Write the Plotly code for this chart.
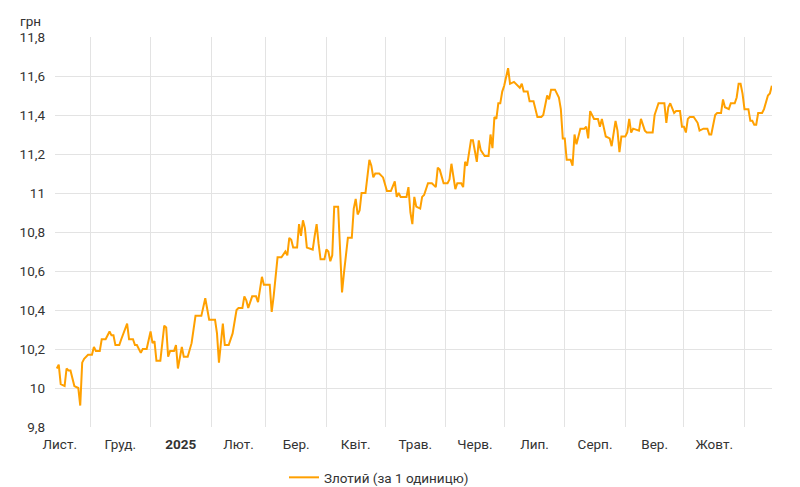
import plotly.graph_objects as go

dates = [
"2024-11-14","2024-11-15","2024-11-16","2024-11-18","2024-11-19","2024-11-20","2024-11-21","2024-11-23",
"2024-11-25","2024-11-26","2024-11-27","2024-11-28","2024-11-30","2024-12-02","2024-12-03","2024-12-04",
"2024-12-06","2024-12-07","2024-12-09","2024-12-11","2024-12-12","2024-12-13","2024-12-14","2024-12-16",
"2024-12-17","2024-12-20","2024-12-21","2024-12-23","2024-12-24","2024-12-25","2024-12-27","2024-12-28",
"2024-12-30","2025-01-01","2025-01-02","2025-01-03","2025-01-04","2025-01-06","2025-01-08","2025-01-09",
"2025-01-10","2025-01-11","2025-01-13","2025-01-14","2025-01-15","2025-01-17","2025-01-18","2025-01-20",
"2025-01-22","2025-01-24","2025-01-27","2025-01-29","2025-01-31","2025-02-03","2025-02-04","2025-02-05",
"2025-02-07","2025-02-08","2025-02-10","2025-02-11","2025-02-12","2025-02-14","2025-02-15","2025-02-17",
"2025-02-18","2025-02-19","2025-02-20","2025-02-22","2025-02-24","2025-02-25","2025-02-27","2025-02-28",
"2025-03-03","2025-03-04","2025-03-05","2025-03-07","2025-03-09","2025-03-11","2025-03-12","2025-03-13",
"2025-03-14","2025-03-15","2025-03-17","2025-03-18","2025-03-19","2025-03-20","2025-03-21","2025-03-22",
"2025-03-25","2025-03-26","2025-03-27","2025-03-28","2025-03-29","2025-03-31","2025-04-01","2025-04-02",
"2025-04-03","2025-04-04","2025-04-05","2025-04-07","2025-04-08","2025-04-09","2025-04-10","2025-04-12",
"2025-04-14","2025-04-15","2025-04-16","2025-04-17","2025-04-18","2025-04-19","2025-04-21","2025-04-23",
"2025-04-24","2025-04-25","2025-04-26","2025-04-28","2025-04-30","2025-05-02","2025-05-04","2025-05-06",
"2025-05-07","2025-05-08","2025-05-09","2025-05-12","2025-05-13","2025-05-14","2025-05-15","2025-05-16",
"2025-05-17","2025-05-19","2025-05-20","2025-05-21","2025-05-23","2025-05-25","2025-05-27","2025-05-28",
"2025-05-29","2025-05-31","2025-06-02","2025-06-03","2025-06-04","2025-06-05","2025-06-06","2025-06-07",
"2025-06-09","2025-06-10","2025-06-11","2025-06-12","2025-06-14","2025-06-15","2025-06-17","2025-06-18",
"2025-06-19","2025-06-21","2025-06-23","2025-06-24","2025-06-25","2025-06-26","2025-06-27","2025-06-28",
"2025-06-29","2025-06-30","2025-07-01","2025-07-03","2025-07-04","2025-07-06","2025-07-07","2025-07-09",
"2025-07-10","2025-07-11","2025-07-13","2025-07-14","2025-07-16","2025-07-18","2025-07-20","2025-07-21",
"2025-07-23","2025-07-24","2025-07-25","2025-07-27","2025-07-29","2025-07-30","2025-07-31","2025-08-01",
"2025-08-02","2025-08-04","2025-08-05","2025-08-06","2025-08-07","2025-08-09","2025-08-11","2025-08-12",
"2025-08-13","2025-08-14","2025-08-16","2025-08-18","2025-08-19","2025-08-20","2025-08-22","2025-08-24",
"2025-08-25","2025-08-27","2025-08-28","2025-08-29","2025-08-30","2025-09-01","2025-09-02","2025-09-03",
"2025-09-04","2025-09-05","2025-09-08","2025-09-09","2025-09-11","2025-09-12","2025-09-15","2025-09-16",
"2025-09-18","2025-09-21","2025-09-22","2025-09-23","2025-09-24","2025-09-26","2025-09-27","2025-09-29",
"2025-09-30","2025-10-01","2025-10-02","2025-10-03","2025-10-04","2025-10-06","2025-10-08","2025-10-09",
"2025-10-11","2025-10-13","2025-10-14","2025-10-15","2025-10-17","2025-10-18","2025-10-20","2025-10-21",
"2025-10-22","2025-10-24","2025-10-25","2025-10-27","2025-10-28","2025-10-29","2025-10-30","2025-10-31",
"2025-11-01","2025-11-03","2025-11-04","2025-11-05","2025-11-06","2025-11-07","2025-11-08","2025-11-10",
"2025-11-11","2025-11-12","2025-11-13","2025-11-14","2025-11-15",
]

zloty_uah = [
10.10,10.12,10.02,10.01,10.10,10.09,10.09,10.01,
10.00,9.91,10.13,10.15,10.17,10.17,10.21,10.19,
10.19,10.25,10.25,10.29,10.27,10.27,10.22,10.22,
10.25,10.33,10.25,10.25,10.22,10.22,10.18,10.20,
10.20,10.29,10.23,10.24,10.14,10.14,10.32,10.31,
10.16,10.19,10.19,10.22,10.10,10.21,10.16,10.16,
10.23,10.37,10.37,10.46,10.35,10.35,10.28,10.13,
10.33,10.22,10.22,10.25,10.28,10.40,10.41,10.41,
10.47,10.45,10.41,10.47,10.47,10.44,10.57,10.53,
10.53,10.39,10.47,10.67,10.67,10.70,10.68,10.77,
10.76,10.72,10.72,10.84,10.78,10.86,10.82,10.72,
10.71,10.78,10.84,10.74,10.66,10.66,10.71,10.70,
10.65,10.68,10.93,10.93,10.71,10.49,10.59,10.77,
10.77,10.92,10.97,10.89,10.91,11.00,11.00,11.17,
11.14,11.08,11.10,11.10,11.08,11.01,11.01,11.06,
10.98,11.00,10.98,10.98,11.03,10.90,10.84,10.98,
10.93,10.92,10.98,10.99,11.05,11.05,11.03,11.13,
11.12,11.05,11.05,11.07,11.15,11.09,11.02,11.05,
11.05,11.03,11.16,11.14,11.27,11.27,11.16,11.27,
11.22,11.19,11.19,11.30,11.23,11.39,11.38,11.46,
11.46,11.52,11.55,11.64,11.56,11.57,11.56,11.54,
11.56,11.52,11.52,11.47,11.47,11.39,11.39,11.40,
11.50,11.48,11.53,11.53,11.49,11.43,11.28,11.28,
11.17,11.17,11.14,11.30,11.25,11.33,11.33,11.34,
11.28,11.42,11.38,11.38,11.34,11.38,11.29,11.28,
11.24,11.37,11.32,11.21,11.29,11.29,11.31,11.38,
11.31,11.33,11.32,11.38,11.32,11.31,11.31,11.40,
11.46,11.46,11.36,11.44,11.46,11.41,11.42,11.42,
11.34,11.34,11.31,11.38,11.39,11.39,11.36,11.32,
11.33,11.33,11.30,11.30,11.40,11.41,11.41,11.48,
11.44,11.43,11.46,11.46,11.49,11.56,11.56,11.51,
11.43,11.43,11.37,11.37,11.35,11.35,11.41,11.41,
11.43,11.47,11.50,11.51,11.55,
]

series_name = "Злотий (за 1 одиницю)"
unit_label = "грн"

month_starts = ["2024-12-01","2025-01-01","2025-02-01","2025-03-01","2025-04-01","2025-05-01",
                "2025-06-01","2025-07-01","2025-08-01","2025-09-01","2025-10-01","2025-11-01"]
month_mid = ["2024-11-15 12:00","2024-12-16 12:00","2025-01-16 12:00","2025-02-15","2025-03-16 12:00",
             "2025-04-16","2025-05-16 12:00","2025-06-16","2025-07-16 12:00","2025-08-16 12:00",
             "2025-09-16","2025-10-16 12:00"]
month_labels = ["Лист.","Груд.","<b>2025</b>","Лют.","Бер.","Квіт.","Трав.","Черв.","Лип.","Серп.","Вер.","Жовт."]

y_ticks = [9.8,10.0,10.2,10.4,10.6,10.8,11.0,11.2,11.4,11.6,11.8]
y_labels = ["9,8","10","10,2","10,4","10,6","10,8","11","11,2","11,4","11,6","11,8"]

fig = go.Figure()
fig.add_trace(go.Scatter(
    x=dates, y=zloty_uah, mode="lines", name=series_name,
    line=dict(color="#ffa000", width=2),
))

grid = "#e3e3e3"
fs = 13.5
fig.update_layout(
    width=800, height=487,
    margin=dict(l=47, r=36, t=29, b=68, autoexpand=False),
    plot_bgcolor="white", paper_bgcolor="white",
    font=dict(family="Roboto", size=fs, color="#333333"),
    showlegend=True,
    legend=dict(orientation="h", xref="container", yref="container",
                x=0.345, xanchor="left", y=0.004, yanchor="bottom",
                font=dict(size=fs, color="#333333")),
    xaxis=dict(
        range=["2024-11-13 02:00", "2025-11-15 02:00"], automargin=False,
        tickmode="array", tickvals=month_mid, ticktext=month_labels,
        showgrid=False, zeroline=False, showline=False, ticks="",
        ticklabelstandoff=7,
        minor=dict(tickmode="array", tickvals=month_starts, showgrid=True,
                   gridcolor=grid, gridwidth=1, ticks=""),
    ),
    yaxis=dict(
        range=[9.8, 11.8], automargin=False,
        tickmode="array", tickvals=y_ticks, ticktext=y_labels,
        showgrid=True, gridcolor=grid, gridwidth=1, zeroline=False, showline=False,
        ticks="", ticklabelstandoff=9,
    ),
    annotations=[dict(text=unit_label, xref="paper", yref="paper", x=-0.0516, y=1.0,
                      xanchor="left", yanchor="bottom", yshift=6, showarrow=False,
                      font=dict(size=fs, color="#333333"))],
)

fig.write_html("out.html")
